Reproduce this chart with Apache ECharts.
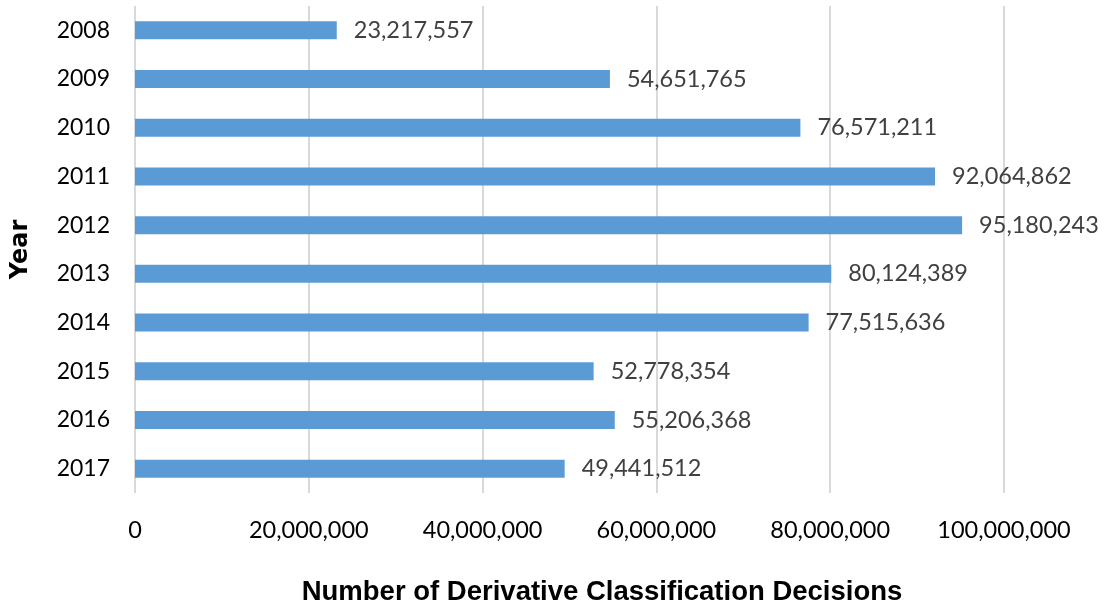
<!DOCTYPE html>
<html>
<head>
<meta charset="utf-8">
<script src="https://cdn.jsdelivr.net/npm/echarts@6/dist/echarts.min.js"></script>
<style>
  html, body { margin: 0; padding: 0; background: #fff; }
  #chart { width: 1106px; height: 607px; }
</style>
</head>
<body>
<div id="chart"></div>
<script>
const years = ['2008', '2009', '2010', '2011', '2012', '2013', '2014', '2015', '2016', '2017'];
const decisions = [23217557, 54651765, 76571211, 92064862, 95180243, 80124389, 77515636, 52778354, 55206368, 49441512];

const fmt = (v) => Number(v).toLocaleString('en-US');

const chart = echarts.init(document.getElementById('chart'));

chart.setOption({
  animation: false,
  textStyle: { fontFamily: 'Lato' },
  title: [
    {
      text: 'Number of Derivative Classification Decisions',
      left: 597,
      top: 573,
      textAlign: 'center',
      textStyle: { fontFamily: 'Liberation Sans', fontWeight: 'bold', fontSize: 27.5, color: '#000' }
    }
  ],
  grid: { left: 135, right: 102, top: 6, bottom: 114, containLabel: false },
  xAxis: {
    type: 'value',
    min: 0,
    max: 100000000,
    interval: 20000000,
    axisLine: { show: false },
    axisTick: { show: false },
    splitLine: { lineStyle: { color: '#d9d9d9', width: 2 } },
    axisLabel: {
      formatter: fmt,
      fontSize: 23.5,
      color: '#000',
      margin: 25
    }
  },
  yAxis: {
    type: 'category',
    data: years,
    inverse: true,
    name: 'Year',
    nameLocation: 'middle',
    nameGap: 102,
    nameRotate: 90,
    nameTextStyle: { fontFamily: 'DejaVu Sans', fontWeight: 'bold', fontSize: 24, color: '#000' },
    axisLine: { show: false },
    axisTick: { show: false },
    axisLabel: { fontSize: 23, color: '#000', margin: 25 }
  },
  series: [
    {
      type: 'bar',
      data: decisions,
      barWidth: 18,
      itemStyle: { color: '#5b9bd5' },
      label: {
        show: true,
        position: 'right',
        distance: 17,
        formatter: (p) => fmt(p.value),
        fontSize: 23.5,
        color: '#404040'
      }
    }
  ]
});
</script>
</body>
</html>
